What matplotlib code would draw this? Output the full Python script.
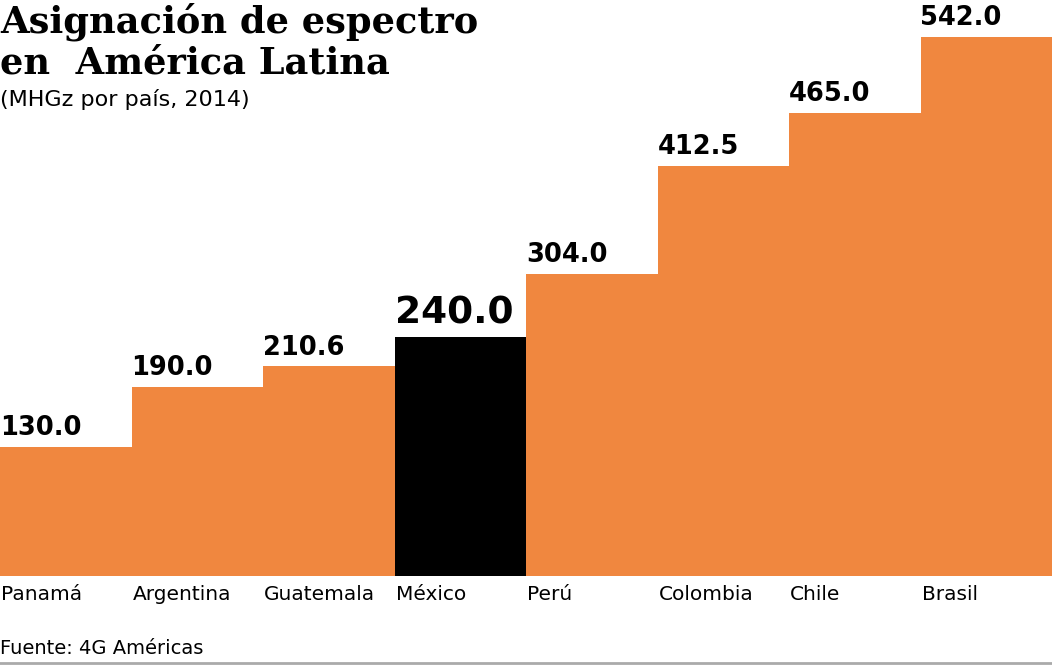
import matplotlib.pyplot as plt
from matplotlib.lines import Line2D

countries = ['Panamá', 'Argentina', 'Guatemala', 'México', 'Perú',
             'Colombia', 'Chile', 'Brasil']
mhz = [130.0, 190.0, 210.6, 240.0, 304.0, 412.5, 465.0, 542.0]
highlight = 'México'

ORANGE = '#f0873f'
sans = 'DejaVu Sans'
serif = 'DejaVu Serif'


def do_plot():
    fig = plt.figure(figsize=(10.52, 6.66), dpi=100)
    ax = fig.add_axes([0, 90 / 666, 1, 576 / 666])
    colors = ['black' if c == highlight else ORANGE for c in countries]
    ax.bar(range(len(countries)), mhz, width=1.0, align='edge',
           color=colors, linewidth=0)
    ax.set_xlim(0, len(countries))
    ax.set_ylim(0, 579)
    ax.axis('off')

    for i, (c, v) in enumerate(zip(countries, mhz)):
        if c == highlight:
            ax.text(i, v + 6, '%.1f' % v, ha='left', va='bottom',
                    fontsize=27, fontweight='bold', family=sans)
        else:
            ax.text(i, v + 6, '%.1f' % v, ha='left', va='bottom',
                    fontsize=18.5, fontweight='bold', family=sans)
        fig.text(i / len(countries) + 0.001, 1 - 594 / 666, c,
                 ha='left', va='center', fontsize=14.5, family=sans)

    fig.text(0.0, 1 - 22 / 666, 'Asignación de espectro', ha='left',
             va='center', fontsize=26.5, fontweight='heavy', family=serif)
    fig.text(0.0, 1 - 63 / 666, 'en  América Latina', ha='left',
             va='center', fontsize=26.5, fontweight='heavy', family=serif)
    fig.text(0.0, 1 - 99 / 666, '(MHGz por país, 2014)', ha='left',
             va='center', fontsize=16, family=sans)
    fig.text(0.0, 1 - 648 / 666, 'Fuente: 4G Américas', ha='left',
             va='center', fontsize=14, family=sans)
    fig.add_artist(Line2D([0, 1], [1 - 663 / 666] * 2, color='#aaaaaa',
                          linewidth=2, transform=fig.transFigure))

    fig.savefig('out.png', dpi=100)


if __name__ == '__main__':
    do_plot()
